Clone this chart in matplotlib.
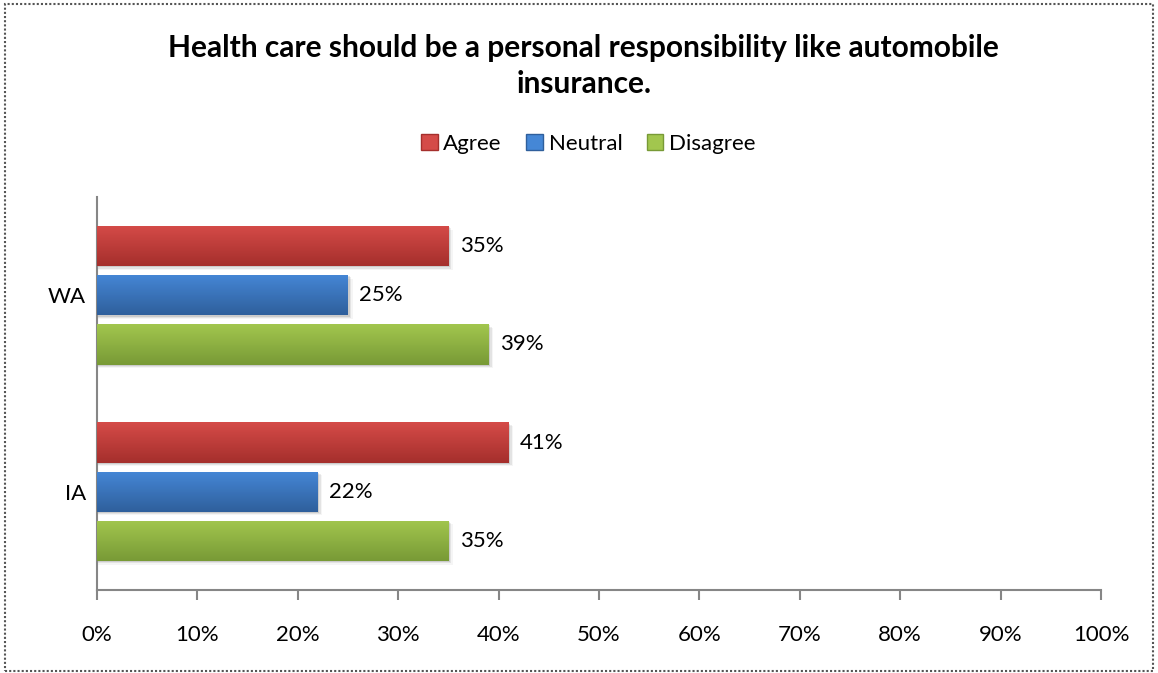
import numpy as np
import matplotlib.pyplot as plt
from matplotlib.patches import Rectangle
from matplotlib.colors import LinearSegmentedColormap

plt.rcParams['font.family'] = ['Lato', 'DejaVu Sans']

regions = ["IA", "WA"]
series = ["Agree", "Neutral", "Disagree"]
agree = [41, 35]
neutral = [22, 25]
disagree = [35, 39]
xticks = [0, 10, 20, 30, 40, 50, 60, 70, 80, 90, 100]

# (top, bottom) shades for the bar gradient
shades = {
    "Agree": ("#d54b48", "#a52f2c"),
    "Neutral": ("#4587d6", "#2f5f9c"),
    "Disagree": ("#a2c64e", "#789a36"),
}
values = {"Agree": agree, "Neutral": neutral, "Disagree": disagree}
offsets = {"Agree": 0.25, "Neutral": 0.0, "Disagree": -0.25}
bar_h = 0.205

fig = plt.figure(figsize=(11.58, 6.73), dpi=100)
ax = fig.add_axes([0.0838, 0.1233, 0.8670, 0.5840])

ypos = np.arange(len(regions)) + 0.5
for name in series:
    top, bottom = shades[name]
    cmap = LinearSegmentedColormap.from_list(name, [bottom, top])
    for y, v in zip(ypos, values[name]):
        yc = y + offsets[name]
        # soft shadow under each bar
        for k, a in enumerate([0.10, 0.07, 0.04]):
            ax.add_patch(Rectangle((0, yc - bar_h / 2 - 0.006 * (k + 1)), v + 0.15 * (k + 1), bar_h,
                                   facecolor="black", alpha=a, edgecolor="none", zorder=1))
        bars = ax.barh(yc, v, height=bar_h, color=bottom, edgecolor="none", zorder=2)
        rect = bars[0]
        grad = np.linspace(0, 1, 64).reshape(-1, 1)
        im = ax.imshow(grad, cmap=cmap, aspect="auto", zorder=3, origin="lower",
                       extent=(0, v, yc - bar_h / 2, yc + bar_h / 2), interpolation="bicubic")
        im.set_clip_path(rect)
        ax.annotate(f"{v}%", (v, yc), xytext=(8, 0), textcoords="offset points",
                    va="center", ha="left", fontsize=16, color="black")

ax.set_xlim(0, 100)
ax.set_ylim(0, 2)
ax.set_xticks(xticks)
ax.set_xticklabels([f"{t}%" for t in xticks], fontsize=16)
ax.set_yticks(ypos)
ax.set_yticklabels(regions, fontsize=16)
ax.tick_params(axis="y", length=0, pad=8)
ax.tick_params(axis="x", direction="out", length=7, width=1.5, color="#868686", pad=18)
for side in ["top", "right"]:
    ax.spines[side].set_visible(False)
for side in ["left", "bottom"]:
    ax.spines[side].set_color("#868686")
    ax.spines[side].set_linewidth(1.5)

fig.text(0.504, 0.902, "Health care should be a personal responsibility like automobile\ninsurance.",
         ha="center", va="center", fontsize=21.5, fontweight="bold", linespacing=1.38)

handles = [Rectangle((0, 0), 1, 1, facecolor=shades[s][0], edgecolor=shades[s][1]) for s in series]
fig.legend(handles, series, loc="center", bbox_to_anchor=(0.508, 0.786), ncol=3, frameon=False,
           fontsize=16, handlelength=0.75, handleheight=0.75, handletextpad=0.25, columnspacing=1.1)

# dotted frame round the whole chart
fig.add_artist(Rectangle((0.004, 0.003), 0.992, 0.991, transform=fig.transFigure, fill=False,
                         edgecolor="#555555", linestyle=(0, (1, 1)), linewidth=1.5))

fig.savefig("out.png", dpi=100)
